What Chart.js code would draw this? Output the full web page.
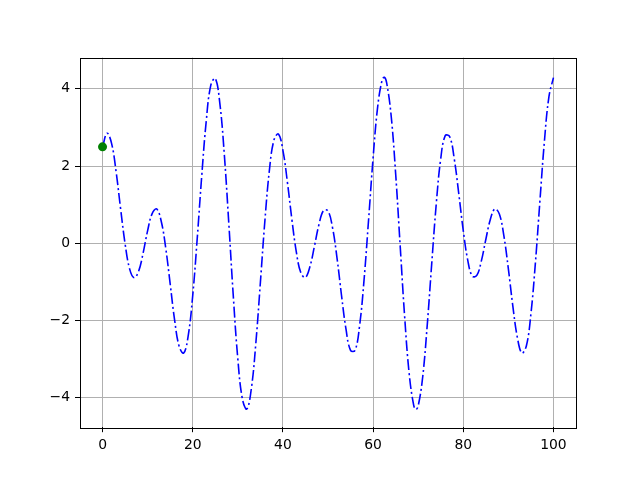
<!DOCTYPE html>
<html>
<head>
<meta charset="utf-8">
<script src="https://cdn.jsdelivr.net/npm/chart.js@4/dist/chart.umd.min.js"></script>
<style>
  html, body { margin: 0; padding: 0; background: #fff; }
  canvas { display: block; }
</style>
</head>
<body>
<canvas id="chart" width="640" height="480"></canvas>
<script>
// - data -------------------------------------------------
const xs = [
  0, 1, 2, 3, 4, 5, 6, 7, 8, 9, 10, 11, 12, 13, 14, 15, 16, 17, 18, 19, 20,
  21, 22, 23, 24, 25, 26, 27, 28, 29, 30, 31, 32, 33, 34, 35, 36, 37, 38, 39, 40,
  41, 42, 43, 44, 45, 46, 47, 48, 49, 50, 51, 52, 53, 54, 55, 56, 57, 58, 59, 60,
  61, 62, 62.5, 63, 64, 65, 66, 67, 68, 69, 69.5, 70, 71, 72, 73, 74, 75, 76, 77, 78, 79, 80,
  81, 82, 83, 84, 85, 86, 87, 88, 89, 90, 91, 92, 93, 94, 95, 96, 97, 98, 99, 100
];
const ys = [
  2.50, 2.85, 2.59, 1.86, 0.90, -0.01, -0.66, -0.89, -0.72, -0.25, 0.33,
  0.77, 0.89, 0.58, -0.11, -1.05, -2.00, -2.67, -2.84, -2.39, -1.35,
  0.13, 1.75, 3.17, 4.09, 4.27, 3.64, 2.31, 0.52, -1.37, -2.99,
  -4.02, -4.29, -3.76, -2.58, -1.02, 0.58, 1.89, 2.67, 2.83, 2.41,
  1.58, 0.61, -0.24, -0.77, -0.88, -0.60, -0.07, 0.49, 0.85, 0.84,
  0.41, -0.38, -1.35, -2.23, -2.77, -2.77, -2.14, -0.94, 0.61, 2.21,
  3.52, 4.23, 4.30, 4.16, 3.31, 1.81, -0.05, -1.90, -3.37, -4.19, -4.30, -4.21,
  -3.46, -2.13, -0.53, 1.01, 2.19, 2.79, 2.76, 2.19, 1.29, 0.33,
  -0.44, -0.85, -0.83, -0.46, 0.10, 0.62, 0.89, 0.76, 0.20, -0.66,
  -1.63, -2.44, -2.84, -2.65, -1.83, -0.50, 1.10, 2.65, 3.80, 4.29
];
const startPoint = [{ x: 0, y: 2.5 }];

const xTicks = [0, 20, 40, 60, 80, 100];
const yTicks = [-4, -2, 0, 2, 4];

// - helpers ----------------------------------------------
const FONT = { family: '"DejaVu Sans", sans-serif', size: 13.9 };

// matplotlib draws all four spines
const framePlugin = {
  id: 'frame',
  afterDraw(chart) {
    const { ctx, chartArea: a } = chart;
    ctx.save();
    ctx.strokeStyle = '#000';
    ctx.lineWidth = 1;
    ctx.strokeRect(Math.round(a.left) + 0.5, Math.round(a.top) + 0.5,
      Math.round(a.right - a.left), Math.round(a.bottom - a.top));
    ctx.restore();
  }
};

function axisStyle(ticks) {
  return {
    type: 'linear',
    afterBuildTicks: (scale) => { scale.ticks = ticks.map(v => ({ value: v })); },
    grid: { color: '#b0b0b0', lineWidth: 1, tickColor: '#000', tickLength: 5 },
    border: { display: false },
    ticks: {
      color: '#000', font: FONT, padding: 5, maxRotation: 0,
      callback: (v) => String(v).replace('-', '\u2212') // real minus sign
    }
  };
}

const points = xs.map((x, i) => ({ x, y: ys[i] }));

const xAxis = axisStyle(xTicks);
xAxis.min = -5;
xAxis.max = 105;
xAxis.afterFit = (scale) => { scale.height = 52.8; };

const yAxis = axisStyle(yTicks);
yAxis.min = -4.76;
yAxis.max = 4.81;
yAxis.afterFit = (scale) => { scale.width = 80; };

new Chart(document.getElementById('chart').getContext('2d'), {
  type: 'line',
  data: {
    datasets: [{
      data: startPoint,
      showLine: false,
      pointRadius: 4.5,
      pointBackgroundColor: '#008000',
      pointBorderWidth: 0,
      order: 0
    }, {
      data: points,
      borderColor: '#0000ff',
      borderWidth: 1.6,
      borderDash: [11, 3, 2, 3],
      tension: 0.4,
      pointRadius: 0,
      fill: false,
      order: 1
    }]
  },
  options: {
    responsive: false,
    animation: false,
    layout: { padding: { left: 0, top: 57.6, right: 64, bottom: 0 } },
    scales: { x: xAxis, y: yAxis },
    plugins: { legend: { display: false }, tooltip: { enabled: false } }
  },
  plugins: [framePlugin]
});
</script>
</body>
</html>
